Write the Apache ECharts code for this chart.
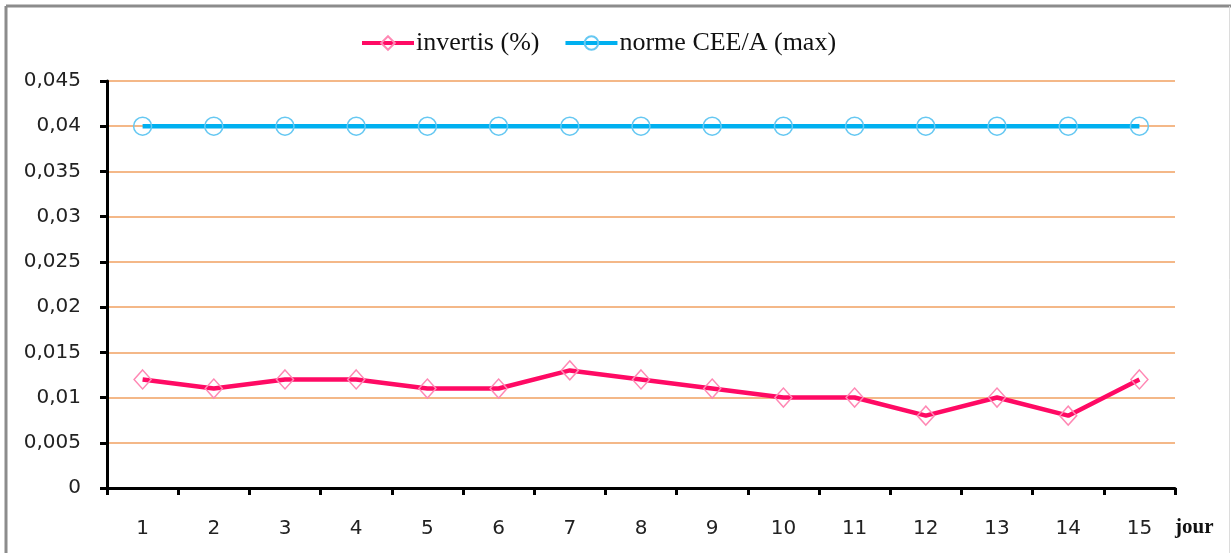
<!DOCTYPE html>
<html>
<head>
<meta charset="utf-8">
<script src="https://cdn.jsdelivr.net/npm/echarts@6/dist/echarts.min.js"></script>
<style>
body { margin: 0; background: #fff; }
#main { width: 1231px; height: 553px; }
</style>
</head>
<body>
<div id="main"></div>
<script>
// jours
const days = ['1','2','3','4','5','6','7','8','9','10','11','12','13','14','15']
// invertis (%)
const invertis = [0.012, 0.011, 0.012, 0.012, 0.011, 0.011, 0.013, 0.012, 0.011, 0.010, 0.010, 0.008, 0.010, 0.008, 0.012]
// norme CEE/A (max)
const norme = [0.04, 0.04, 0.04, 0.04, 0.04, 0.04, 0.04, 0.04, 0.04, 0.04, 0.04, 0.04, 0.04, 0.04, 0.04]

let chart = echarts.init(document.getElementById('main'))
chart.setOption({
  animation: false,
  backgroundColor: '#fff',
  graphic: [
    { type: 'line', shape: { x1: 6, y1: 6, x2: 1231, y2: 6 }, style: { stroke: '#8c8c8c', lineWidth: 3 } },
    { type: 'line', shape: { x1: 6, y1: 6, x2: 6, y2: 553 }, style: { stroke: '#8c8c8c', lineWidth: 3 } },
    { type: 'line', shape: { x1: 1229.5, y1: 6, x2: 1229.5, y2: 553 }, style: { stroke: '#dcdcdc', lineWidth: 1 } }
  ],
  legend: {
    top: 25,
    left: 355,
    itemWidth: 52,
    itemHeight: 17,
    itemGap: 24,
    lineStyle: { width: 4 },
    textStyle: { fontFamily: 'Liberation Serif', fontSize: 26, color: '#111', padding: [0, 0, 0, -3] },
    data: ['invertis (%)', 'norme CEE/A (max)']
  },
  grid: { left: 107, right: 56, top: 81, bottom: 65 },
  xAxis: {
    type: 'category',
    boundaryGap: true,
    data: days,
    name: 'jour',
    nameLocation: 'end',
    nameGap: 0,
    nameTextStyle: {
      fontFamily: 'Liberation Serif', fontWeight: 'bold', fontSize: 21, color: '#111',
      verticalAlign: 'top', padding: [29, 0, 0, 0]
    },
    axisLine: { lineStyle: { color: '#000', width: 3 } },
    axisTick: { show: true, length: 7, lineStyle: { color: '#000', width: 3 } },
    axisLabel: { margin: 31, fontFamily: 'DejaVu Sans', fontSize: 20, color: '#222' },
    splitLine: { show: false }
  },
  yAxis: {
    type: 'value',
    min: 0,
    max: 0.045,
    interval: 0.005,
    axisLine: { show: true, lineStyle: { color: '#000', width: 3 } },
    axisTick: { show: true, length: 7, lineStyle: { color: '#000', width: 3 } },
    axisLabel: {
      margin: 26,
      fontFamily: 'DejaVu Sans', fontSize: 20, color: '#222',
      formatter: v => String(Number(v.toFixed(3))).replace('.', ',')
    },
    splitLine: { lineStyle: { color: '#f0a060', width: 1.5 } }
  },
  series: [
    {
      name: 'invertis (%)',
      type: 'line',
      data: invertis,
      symbol: 'diamond',
      symbolSize: [17, 19],
      lineStyle: { color: '#ff0a64', width: 4.5 },
      itemStyle: { color: 'rgba(255,255,255,0)', borderColor: '#ff88b4', borderWidth: 1.5 },
      z: 3
    },
    {
      name: 'norme CEE/A (max)',
      type: 'line',
      data: norme,
      symbol: 'circle',
      symbolSize: 18,
      lineStyle: { color: '#00b0f0', width: 4.5 },
      itemStyle: { color: 'rgba(255,255,255,0)', borderColor: '#66c8f2', borderWidth: 1.5 },
      z: 3
    }
  ]
})
</script>
</body>
</html>
